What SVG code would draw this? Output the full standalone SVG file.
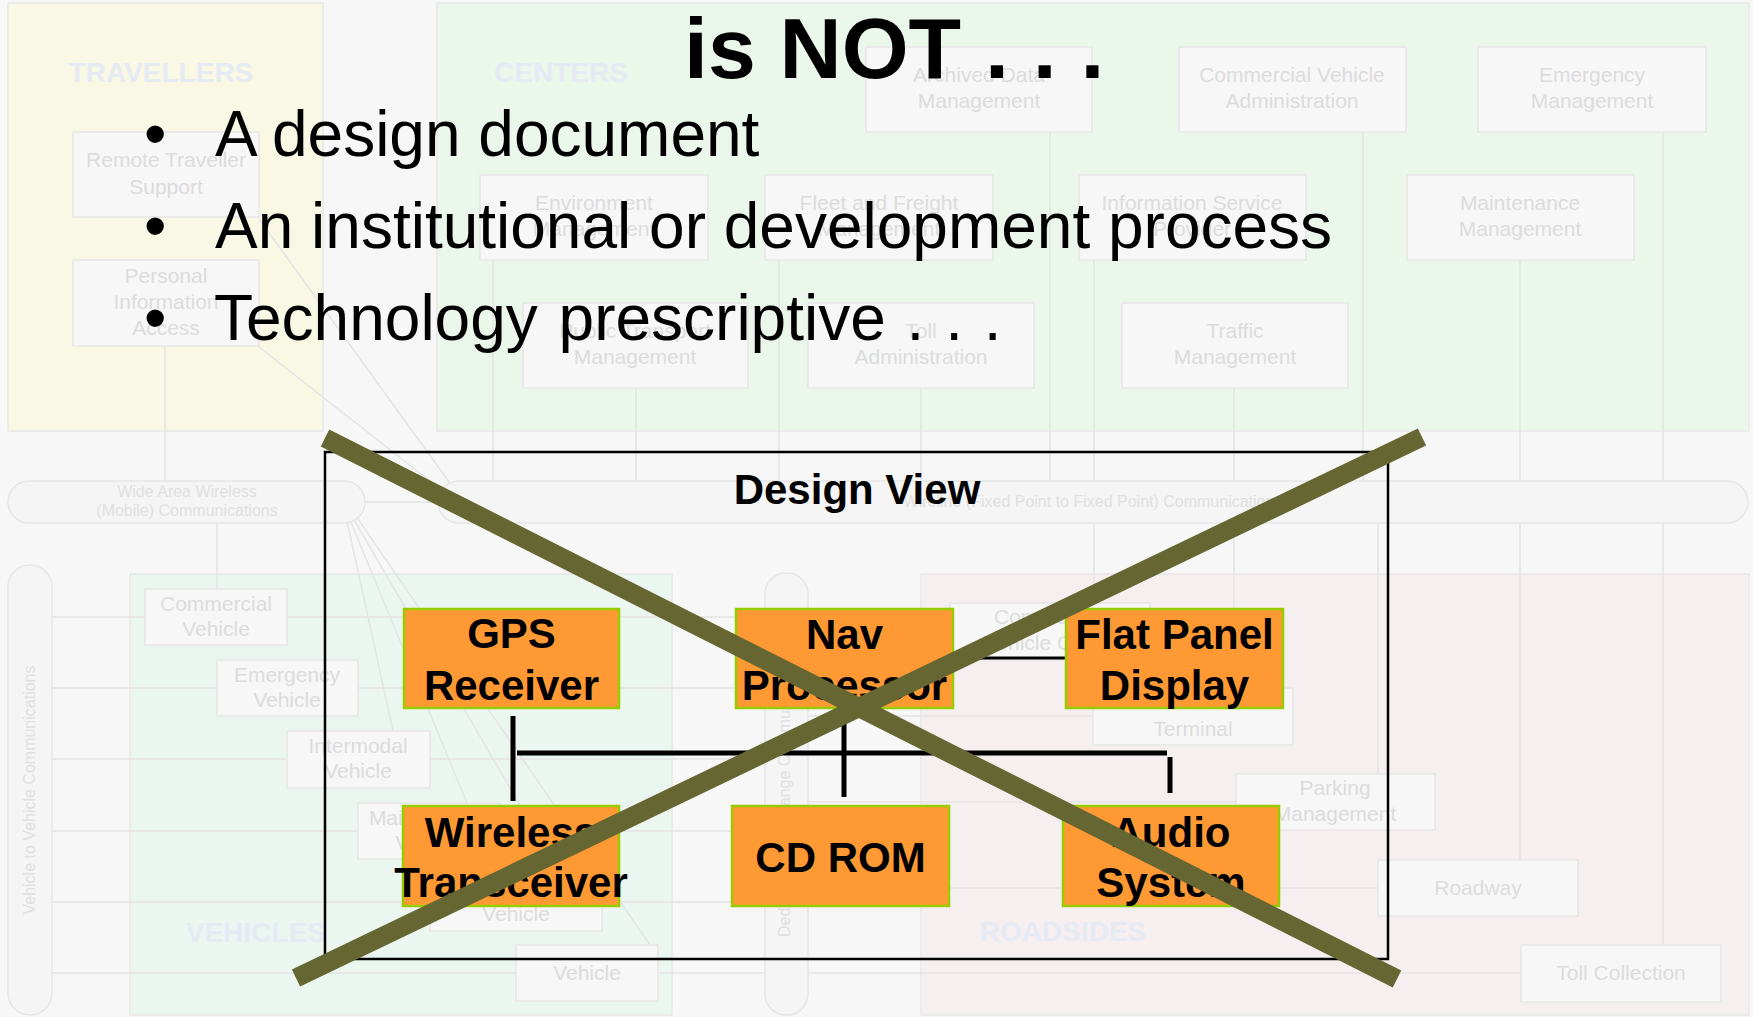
<svg xmlns="http://www.w3.org/2000/svg" width="1753" height="1017" viewBox="0 0 1753 1017">
<defs>
<style>
.bt{font-family:"Liberation Sans",Arial,sans-serif;font-size:21px;fill:#dcdcdc;text-anchor:middle}
.sub{fill:#f7f7f7;stroke:#e6e6e6;stroke-width:1.5}
.bar{fill:#f5f5f5;stroke:#e6e6e6;stroke-width:1.5}
.fl{stroke:#e4e4e4;stroke-width:1.5;fill:none}
.grp{stroke:#e8e8e8;stroke-width:1.5}
.glab{font-family:"Liberation Sans",Arial,sans-serif;font-size:28px;font-weight:bold;fill:#e6eaf3;text-anchor:middle}
.sm{font-family:"Liberation Sans",Arial,sans-serif;font-size:16px;fill:#e0e0e0;text-anchor:middle}
.orange{fill:#ff9933;stroke:#99cc00;stroke-width:2.5}
.ot{font-family:"Liberation Sans",Arial,sans-serif;font-size:42px;font-weight:bold;fill:#000;text-anchor:middle}
.bul{font-family:"Liberation Sans",Arial,sans-serif;font-size:64px;fill:#000}
.conn{stroke:#000;stroke-width:5;fill:none}
.cross{stroke:#666633;stroke-width:19;stroke-linecap:butt;fill:none}
</style>
</defs>
<rect x="0" y="0" width="1753" height="1017" fill="#f7f7f7"/>

<!-- faded background architecture -->
<g id="background">
  <rect class="grp" x="8" y="3" width="315" height="428" fill="#f8f8e5"/>
  <rect class="grp" x="437" y="3" width="1312" height="428" fill="#ebf7eb"/>
  <rect class="grp" x="130" y="574" width="542" height="441" fill="#ebf6f1"/>
  <rect class="grp" x="921" y="574" width="828" height="441" fill="#f6efef"/>
</g>

<g id="bg-links">
  <path class="fl" d="M165 346V481M493 260V481M636 388V481M779 260V481M921 388V481M1050 132V481M1094 260V481M1234 388V481M1363 132V481M1520 260V481M1663 132V481"/>
  <path class="fl" d="M217 523V589M1094 523V603M1234 523V688M1378 523V774M1520 523V860M1663 523V945"/>
  <path class="fl" d="M365 502H440M259 219L452 486M259 347L444 492"/>
  <path class="fl" d="M347 521L393 731M350 520L467 803M353 518L560 874M356 516L650 945"/>
  <path class="fl" d="M52 617H765M52 688H765M52 759H765M52 831H765M52 902H765M52 973H765"/>
  <path class="fl" d="M808 631H950M808 716H1093M808 802H1236M808 888H1378M808 973H1521"/>
</g>

<g id="bars">
  <rect class="bar" x="8" y="481" width="357" height="42" rx="21"/>
  <text class="sm" x="187" y="497">Wide Area Wireless</text>
  <text class="sm" x="187" y="516">(Mobile) Communications</text>
  <rect class="bar" x="438" y="481" width="1310" height="42" rx="21"/>
  <text class="sm" x="1093" y="507">Wireline (Fixed Point to Fixed Point) Communications</text>
  <rect class="bar" x="8" y="565" width="44" height="450" rx="22"/>
  <text class="sm" transform="translate(35,790) rotate(-90)">Vehicle to Vehicle Communications</text>
  <rect class="bar" x="765" y="573" width="43" height="442" rx="21"/>
  <text class="sm" transform="translate(790,792) rotate(-90)">Dedicated Short Range Communications</text>
</g>

<g id="bg-labels">
  <text class="glab" x="161" y="82">TRAVELLERS</text>
  <text class="glab" x="561" y="82">CENTERS</text>
  <text class="glab" x="256" y="942">VEHICLES</text>
  <text class="glab" x="1063" y="941">ROADSIDES</text>
</g>

<g id="travellers">
  <g id="remote-traveller-support"><rect class="sub" x="73" y="132" width="186" height="85"/><text class="bt" x="166" y="167">Remote Traveller</text><text class="bt" x="166" y="194">Support</text></g>
  <g id="personal-information-access"><rect class="sub" x="73" y="260" width="186" height="86"/><text class="bt" x="166" y="283">Personal</text><text class="bt" x="166" y="309">Information</text><text class="bt" x="166" y="335">Access</text></g>
</g>

<g id="centers">
  <g id="archived-data"><rect class="sub" x="866" y="47" width="226" height="85"/><text class="bt" x="979" y="82">Archived Data</text><text class="bt" x="979" y="108">Management</text></g>
  <g id="cv-admin"><rect class="sub" x="1179" y="47" width="227" height="85"/><text class="bt" x="1292" y="82">Commercial Vehicle</text><text class="bt" x="1292" y="108">Administration</text></g>
  <g id="emergency-mgmt"><rect class="sub" x="1478" y="47" width="228" height="85"/><text class="bt" x="1592" y="82">Emergency</text><text class="bt" x="1592" y="108">Management</text></g>
  <g id="environment-mgmt"><rect class="sub" x="480" y="175" width="228" height="85"/><text class="bt" x="594" y="210">Environment</text><text class="bt" x="594" y="236">Management</text></g>
  <g id="fleet-mgmt"><rect class="sub" x="765" y="175" width="228" height="85"/><text class="bt" x="879" y="210">Fleet and Freight</text><text class="bt" x="879" y="236">Management</text></g>
  <g id="isp"><rect class="sub" x="1079" y="175" width="227" height="85"/><text class="bt" x="1192" y="210">Information Service</text><text class="bt" x="1192" y="236">Provider</text></g>
  <g id="maintenance-mgmt"><rect class="sub" x="1407" y="175" width="227" height="85"/><text class="bt" x="1520" y="210">Maintenance</text><text class="bt" x="1520" y="236">Management</text></g>
  <g id="public-transport-mgmt"><rect class="sub" x="523" y="303" width="225" height="85"/><text class="bt" x="635" y="338">Public Transport</text><text class="bt" x="635" y="364">Management</text></g>
  <g id="toll-admin"><rect class="sub" x="808" y="303" width="226" height="85"/><text class="bt" x="921" y="338">Toll</text><text class="bt" x="921" y="364">Administration</text></g>
  <g id="traffic-mgmt"><rect class="sub" x="1122" y="303" width="226" height="85"/><text class="bt" x="1235" y="338">Traffic</text><text class="bt" x="1235" y="364">Management</text></g>
</g>

<g id="vehicles">
  <g id="commercial-vehicle"><rect class="sub" x="145" y="589" width="142" height="56"/><text class="bt" x="216" y="611">Commercial</text><text class="bt" x="216" y="636">Vehicle</text></g>
  <g id="emergency-vehicle"><rect class="sub" x="217" y="660" width="141" height="56"/><text class="bt" x="287" y="682">Emergency</text><text class="bt" x="287" y="707">Vehicle</text></g>
  <g id="intermodal-vehicle"><rect class="sub" x="287" y="731" width="143" height="57"/><text class="bt" x="358" y="753">Intermodal</text><text class="bt" x="358" y="778">Vehicle</text></g>
  <g id="maintenance-vehicle"><rect class="sub" x="358" y="803" width="142" height="56"/><text class="bt" x="429" y="825">Maintenance</text><text class="bt" x="429" y="850">Vehicle</text></g>
  <g id="transit-vehicle"><rect class="sub" x="430" y="874" width="172" height="57"/><text class="bt" x="516" y="921">Vehicle</text></g>
  <g id="vehicle"><rect class="sub" x="516" y="945" width="142" height="56"/><text class="bt" x="587" y="980">Vehicle</text></g>
</g>

<g id="roadsides">
  <g id="cv-check"><rect class="sub" x="950" y="603" width="200" height="57"/><text class="bt" x="1050" y="624">Commercial</text><text class="bt" x="1050" y="650">Vehicle Check</text></g>
  <g id="terminal"><rect class="sub" x="1093" y="688" width="200" height="57"/><text class="bt" x="1193" y="736">Terminal</text></g>
  <g id="parking-mgmt"><rect class="sub" x="1236" y="774" width="199" height="56"/><text class="bt" x="1335" y="795">Parking</text><text class="bt" x="1335" y="821">Management</text></g>
  <g id="roadway"><rect class="sub" x="1378" y="860" width="200" height="56"/><text class="bt" x="1478" y="895">Roadway</text></g>
  <g id="toll-collection"><rect class="sub" x="1521" y="945" width="200" height="57"/><text class="bt" x="1621" y="980">Toll Collection</text></g>
</g>

<!-- foreground -->
<g id="title">
  <text x="684" y="78" style="font-family:'Liberation Sans',Arial,sans-serif;font-size:86px;font-weight:bold;fill:#000">is NOT . . .</text>
</g>
<g id="bullets">
  <text class="bul" x="144" y="156">•</text><text class="bul" x="215" y="156">A design document</text>
  <text class="bul" x="144" y="248">•</text><text class="bul" x="215" y="248">An institutional or development process</text>
  <text class="bul" x="144" y="340">•</text><text class="bul" x="214" y="340" word-spacing="3">Technology prescriptive . . .</text>
</g>

<g id="design-view">
  <rect x="325" y="452" width="1063" height="507" fill="none" stroke="#000" stroke-width="2.5"/>
  <text x="857" y="504" style="font-family:'Liberation Sans',Arial,sans-serif;font-size:42px;font-weight:bold;fill:#000;text-anchor:middle">Design View</text>
</g>

<g id="connectors">
  <path class="conn" d="M513 716V801"/>
  <path class="conn" d="M517 753H1167"/>
  <path class="conn" d="M844 723V797"/>
  <path class="conn" d="M1170 757V793"/>
  <path class="conn" style="stroke-width:3" d="M953 658H1066"/>
</g>

<g id="gps-receiver"><rect class="orange" x="404" y="609" width="215" height="99"/><text class="ot" x="511.5" y="648">GPS</text><text class="ot" x="511.5" y="700">Receiver</text></g>
<g id="nav-processor"><rect class="orange" x="736" y="609" width="217" height="99"/><text class="ot" x="844.5" y="649">Nav</text><text class="ot" x="844.5" y="700">Processor</text></g>
<g id="flat-panel-display"><rect class="orange" x="1066" y="609" width="217" height="99"/><text class="ot" x="1174.5" y="649">Flat Panel</text><text class="ot" x="1174.5" y="700">Display</text></g>
<g id="wireless-transceiver"><rect class="orange" x="403" y="806" width="216" height="100"/><text class="ot" x="511" y="847">Wireless</text><text class="ot" x="511" y="897">Transceiver</text></g>
<g id="cd-rom"><rect class="orange" x="732" y="806" width="217" height="100"/><text class="ot" x="840.5" y="872">CD ROM</text></g>
<g id="audio-system"><rect class="orange" x="1063" y="806" width="216" height="100"/><text class="ot" x="1171" y="847">Audio</text><text class="ot" x="1171" y="897">System</text></g>

<g id="cross-out">
  <path class="cross" d="M325 438L1397 979"/>
  <path class="cross" d="M1422 437L296 978"/>
</g>
</svg>
